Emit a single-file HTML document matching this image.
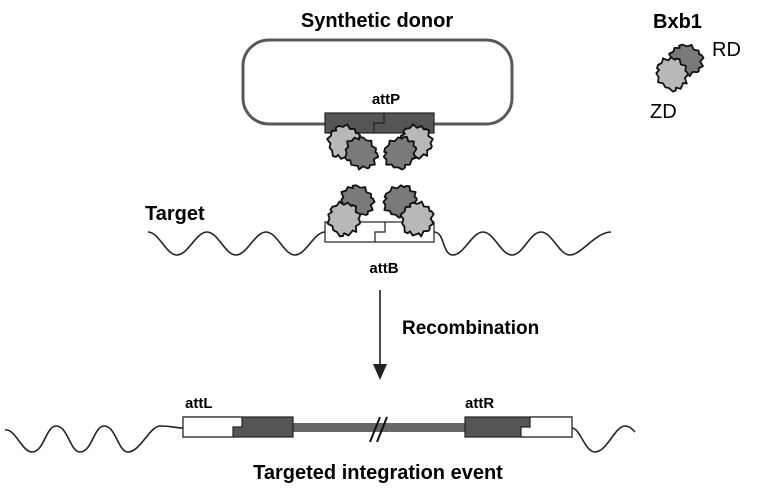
<!DOCTYPE html>
<html><head><meta charset="utf-8"><style>
html,body{margin:0;padding:0;background:#fff;}
svg{display:block;}
text{font-family:"Liberation Sans",Arial,sans-serif;fill:#000;}
</style></head><body>
<svg width="761" height="498" viewBox="0 0 761 498" xmlns="http://www.w3.org/2000/svg">
<defs>
<polygon id="blob" points="19,0 15.5,4.1 16.6,7 15.6,9 10.6,10.6 9.5,16.5 6,14 4.1,15.5 0,18 -3.9,14.5 -6,17 -9.5,16.5 -11.3,11.3 -14.7,8.5 -14.5,3.9 -17,2 -19,0 -15.5,-4.1 -15.6,-9 -10.6,-10.6 -12,-13 -9,-15.6 -4.1,-15.5 -2,-17 0,-19 3.9,-14.5 9,-15.6 11.3,-11.3 13,-12 16.5,-9.5 14.5,-3.9 17,-2" stroke="#111" stroke-width="2" stroke-linejoin="round"/>
</defs>

<text x="377" y="27" font-size="20" font-weight="bold" text-anchor="middle">Synthetic donor</text>
<text x="653" y="28" font-size="20" font-weight="bold">Bxb1</text>
<text x="712" y="56" font-size="20">RD</text>
<text x="650" y="118" font-size="20">ZD</text>

<use href="#blob" transform="translate(686,60) rotate(20) scale(0.95,0.85)" fill="#7a7a7a"/>
<use href="#blob" transform="translate(672,74) rotate(-30) scale(0.85,0.95)" fill="#b8b8b8"/>

<rect x="243" y="40" width="269" height="84" rx="26" ry="26" fill="none" stroke="#595959" stroke-width="3"/>
<text x="386" y="104" font-size="15" font-weight="bold" text-anchor="middle">attP</text>
<rect x="325" y="113" width="109" height="20" fill="#555" stroke="#222" stroke-width="1.2"/>
<polyline points="384,113 384,123 374,123 374,133" fill="none" stroke="#222" stroke-width="1.2"/>

<use href="#blob" transform="translate(344,142) rotate(10) scale(0.9,0.95)" fill="#b8b8b8"/>
<use href="#blob" transform="translate(416,142) rotate(-10) scale(0.9,0.95)" fill="#b8b8b8"/>
<use href="#blob" transform="translate(361,153) rotate(40) scale(0.95,0.85)" fill="#7a7a7a"/>
<use href="#blob" transform="translate(400,153) rotate(-40) scale(0.95,0.85)" fill="#7a7a7a"/>

<text x="145" y="220" font-size="20" font-weight="bold">Target</text>
<path d="M148,232 C159,232 166,255 177,255 C188,255 196,232 207,232 C218,232 225,255 236,255 C247,255 255,232 266,232 C277,232 284,255 295,255 C306,255 314,232 325,232" fill="none" stroke="#222" stroke-width="1.6"/>
<path d="M434,232 C445,232 442,255 453,255 C464,255 472,232 483,232 C494,232 501,255 512,255 C523,255 530,232 541,232 C552,232 559,255 570,255 C581,255 596,232 611,232" fill="none" stroke="#222" stroke-width="1.6"/>
<rect x="325" y="222" width="109" height="20" fill="#fff" stroke="#222" stroke-width="1.2"/>
<polyline points="385,222 385,232 375,232 375,242" fill="none" stroke="#222" stroke-width="1.2"/>

<use href="#blob" transform="translate(357,201) rotate(30) scale(0.95,0.85)" fill="#7a7a7a"/>
<use href="#blob" transform="translate(400,201) rotate(-30) scale(0.95,0.85)" fill="#7a7a7a"/>
<use href="#blob" transform="translate(344,219) rotate(-15) scale(0.9,0.95)" fill="#b8b8b8"/>
<use href="#blob" transform="translate(417,219) rotate(15) scale(0.9,0.95)" fill="#b8b8b8"/>
<text x="384" y="273" font-size="15" font-weight="bold" text-anchor="middle">attB</text>

<line x1="380" y1="290" x2="380" y2="366" stroke="#222" stroke-width="1.6"/>
<polygon points="373,364 387,364 380,380" fill="#222"/>
<text x="402" y="334" font-size="19" font-weight="bold">Recombination</text>

<text x="185" y="408" font-size="15" font-weight="bold">attL</text>
<text x="465" y="408" font-size="15" font-weight="bold">attR</text>
<path d="M5,430 C15,428 22,452 32,452 C44,452 46,426 56,426 C68,426 70,452 80,452 C92,452 94,426 104,426 C116,426 118,452 128,452 C140,452 150,426 160,426 C172,426 176,428 183,428" fill="none" stroke="#222" stroke-width="1.6"/>
<rect x="292" y="423" width="174" height="9" fill="#666"/>
<rect x="183" y="417" width="110" height="20" fill="#555" stroke="#222" stroke-width="1.2"/>
<polygon points="183,417 242,417 242,427 233,427 233,437 183,437" fill="#fff" stroke="#222" stroke-width="1.2"/>
<rect x="465" y="417" width="107" height="20" fill="#555" stroke="#222" stroke-width="1.2"/>
<polygon points="572,417 530,417 530,427 521,427 521,437 572,437" fill="#fff" stroke="#222" stroke-width="1.2"/>
<path d="M572,428 C580,428 585,452 595,452 C607,452 615,426 625,426 C630,426 633,430 635,432" fill="none" stroke="#222" stroke-width="1.6"/>
<line x1="370" y1="442" x2="380" y2="417" stroke="#111" stroke-width="2"/>
<line x1="377" y1="442" x2="387" y2="417" stroke="#111" stroke-width="2"/>
<text x="378" y="479" font-size="20" font-weight="bold" text-anchor="middle">Targeted integration event</text>
</svg>
</body></html>
